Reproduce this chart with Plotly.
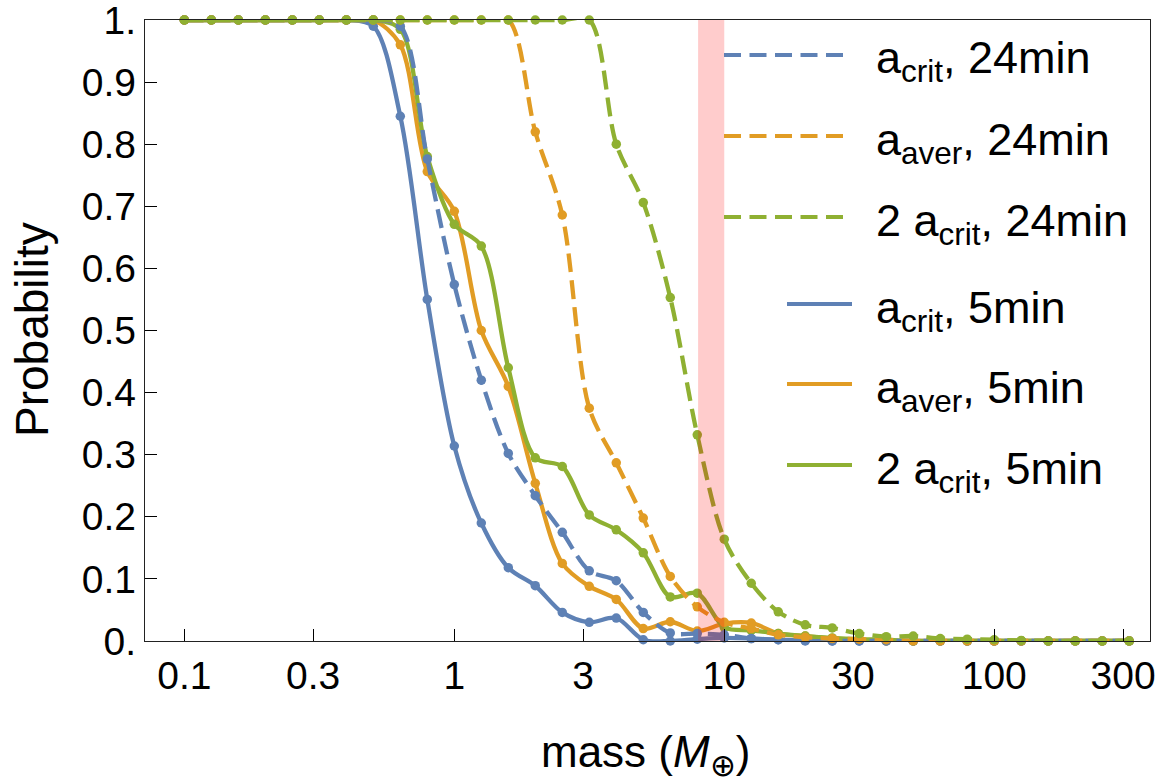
import math
import plotly.graph_objects as go

# ---------------- data ----------------
mass = [0.1, 0.1259, 0.1585, 0.1995, 0.2512, 0.3162, 0.3981, 0.5012, 0.631, 0.7943,
        1.0, 1.259, 1.585, 1.995, 2.512, 3.162, 3.981, 5.012, 6.31, 7.943,
        10.0, 12.59, 15.85, 19.95, 25.12, 31.62, 39.81, 50.12, 63.1, 79.43,
        100.0, 125.9, 158.5, 199.5, 251.2, 316.2]

p_crit_5 = [1, 1, 1, 1, 1, 1, 1, 0.99, 0.845, 0.55,
            0.314, 0.19, 0.118, 0.089, 0.046, 0.03, 0.037, 0.002, 0.0, 0.003,
            0.005, 0.004, 0.002, 0.001, 0, 0, 0, 0, 0, 0,
            0, 0, 0, 0, 0, 0]
p_aver_5 = [1, 1, 1, 1, 1, 1, 1, 1, 0.96, 0.756,
            0.692, 0.50, 0.41, 0.254, 0.125, 0.088, 0.067, 0.02, 0.031, 0.016,
            0.028, 0.029, 0.012, 0.008, 0.004, 0.002, 0, 0, 0, 0,
            0, 0, 0, 0, 0, 0]
p_2crit_5 = [1, 1, 1, 1, 1, 1, 1, 1, 0.985, 0.78,
             0.671, 0.636, 0.44, 0.295, 0.281, 0.203, 0.179, 0.142, 0.071, 0.077,
             0.022, 0.017, 0.012, 0.008, 0.005, 0.003, 0.002, 0, 0, 0,
             0, 0, 0, 0, 0, 0]
p_crit_24 = [1, 1, 1, 1, 1, 1, 1, 1, 0.99, 0.776,
             0.574, 0.42, 0.302, 0.234, 0.175, 0.113, 0.097, 0.046, 0.013, 0.012,
             0.01, 0.004, 0.002, 0, 0, 0, 0, 0, 0, 0,
             0, 0, 0, 0, 0, 0]
p_aver_24 = [1, 1, 1, 1, 1, 1, 1, 1, 1, 1,
             1, 1, 1, 0.82, 0.686, 0.375, 0.287, 0.198, 0.104, 0.055,
             0.03, 0.02, 0.01, 0.006, 0.004, 0.003, 0.002, 0, 0, 0,
             0, 0, 0, 0, 0, 0]
p_2crit_24 = [1, 1, 1, 1, 1, 1, 1, 1, 1, 1,
              1, 1, 1, 1, 1, 1, 0.80, 0.706, 0.553, 0.332,
              0.164, 0.093, 0.047, 0.026, 0.021, 0.012, 0.007, 0.008, 0.004, 0.003,
              0.002, 0.001, 0, 0, 0, 0]

band_lo, band_hi = 8, 10

x_tickvals = [0.1, 0.3, 1, 3, 10, 30, 100, 300]
x_ticktext = ["0.1", "0.3", "1", "3", "10", "30", "100", "300"]
y_tickvals = [0, 0.1, 0.2, 0.3, 0.4, 0.5, 0.6, 0.7, 0.8, 0.9, 1.0]
y_ticktext = ["0.", "0.1", "0.2", "0.3", "0.4", "0.5", "0.6", "0.7", "0.8", "0.9", "1."]

BLUE, ORANGE, GREEN = "#5E81B5", "#E19C24", "#8FB032"
DASH = "19px,8px"
FONT = "Liberation Sans, Arial, sans-serif"

# draw order: solids first, dashed on top
series = [
    ("a<sub>crit</sub>, 5min", p_crit_5, BLUE, "solid"),
    ("a<sub>aver</sub>, 5min", p_aver_5, ORANGE, "solid"),
    ("2 a<sub>crit</sub>, 5min", p_2crit_5, GREEN, "solid"),
    ("a<sub>crit</sub>, 24min", p_crit_24, BLUE, DASH),
    ("a<sub>aver</sub>, 24min", p_aver_24, ORANGE, DASH),
    ("2 a<sub>crit</sub>, 24min", p_2crit_24, GREEN, DASH),
]
legend_order = [3, 4, 5, 0, 1, 2]

W, H = 1162, 781
L, R, T, B = 145, 12, 20, 140
PW, PH = W - L - R, H - T - B

fig = go.Figure()
for name, ys, col, dash in series:
    fig.add_trace(go.Scatter(
        x=mass, y=ys, mode="lines+markers", name=name, showlegend=False,
        line=dict(color=col, width=4.3, dash=dash, shape="spline", smoothing=0.9),
        marker=dict(color=col, size=9.5),
        cliponaxis=False,
    ))

# pink band
fig.add_shape(type="rect", xref="x", yref="y",
              x0=band_lo, x1=band_hi, y0=0, y1=1.008,
              fillcolor="rgba(255,0,0,0.2)", line=dict(width=0), layer="above")


def px2paper(px, py):
    return (px - L) / PW, (H - B - py) / PH


# manual legend
row_y = [55, 136, 217, 304, 384, 465]
for i, idx in enumerate(legend_order):
    name, ys, col, dash = series[idx]
    if dash == "solid":
        x0p, x1p = 787, 852
    else:
        x0p, x1p = 724, 845
    a0, b0 = px2paper(x0p, row_y[i])
    a1, _ = px2paper(x1p, row_y[i])
    fig.add_shape(type="line", xref="paper", yref="paper", x0=a0, x1=a1, y0=b0, y1=b0,
                  line=dict(color=col, width=4, dash="17px,8.5px" if dash != "solid" else "solid"))
    tx, ty = px2paper(874, row_y[i] + 6)
    fig.add_annotation(xref="paper", yref="paper", x=tx, y=ty, text=name, showarrow=False,
                       xanchor="left", yanchor="middle",
                       font=dict(family=FONT, size=45, color="black"))

# axis titles
ax, ay = px2paper(645, 755)
fig.add_annotation(xref="paper", yref="paper", x=ax, y=ay, text="mass (<i>M</i><sub>⊕</sub>)",
                   showarrow=False, xanchor="center", yanchor="middle",
                   font=dict(family=FONT, size=44, color="black"))
bx, by = px2paper(32, 330)
fig.add_annotation(xref="paper", yref="paper", x=bx, y=by, text="Probability", textangle=-90,
                   showarrow=False, xanchor="center", yanchor="middle",
                   font=dict(family=FONT, size=46, color="black"))

xr = [math.log10(0.0715), math.log10(377.6)]
fig.update_layout(
    width=W, height=H,
    margin=dict(l=L, r=R, t=T, b=B, pad=0, autoexpand=False),
    paper_bgcolor="white", plot_bgcolor="white",
    font=dict(family=FONT, color="black"),
    xaxis=dict(type="log", range=xr, tickvals=x_tickvals, ticktext=x_ticktext,
               ticks="inside", ticklen=12, tickwidth=1.2, tickcolor="black",
               showline=True, linecolor="#222", linewidth=1.3, mirror=True,
               showgrid=False, zeroline=False, automargin=False,
               ticklabeloverflow="allow",
               tickfont=dict(family=FONT, size=39, color="black")),
    yaxis=dict(range=[0, 1], tickvals=y_tickvals, ticktext=y_ticktext,
               ticks="inside", ticklen=12, tickwidth=1.2, tickcolor="black",
               showline=True, linecolor="#222", linewidth=1.3, mirror=True,
               showgrid=False, zeroline=False, automargin=False,
               ticklabeloverflow="allow",
               tickfont=dict(family=FONT, size=39, color="black")),
)

fig.write_html("out.html", config={"displayModeBar": False},
               post_script="document.body.style.margin='0px';")
